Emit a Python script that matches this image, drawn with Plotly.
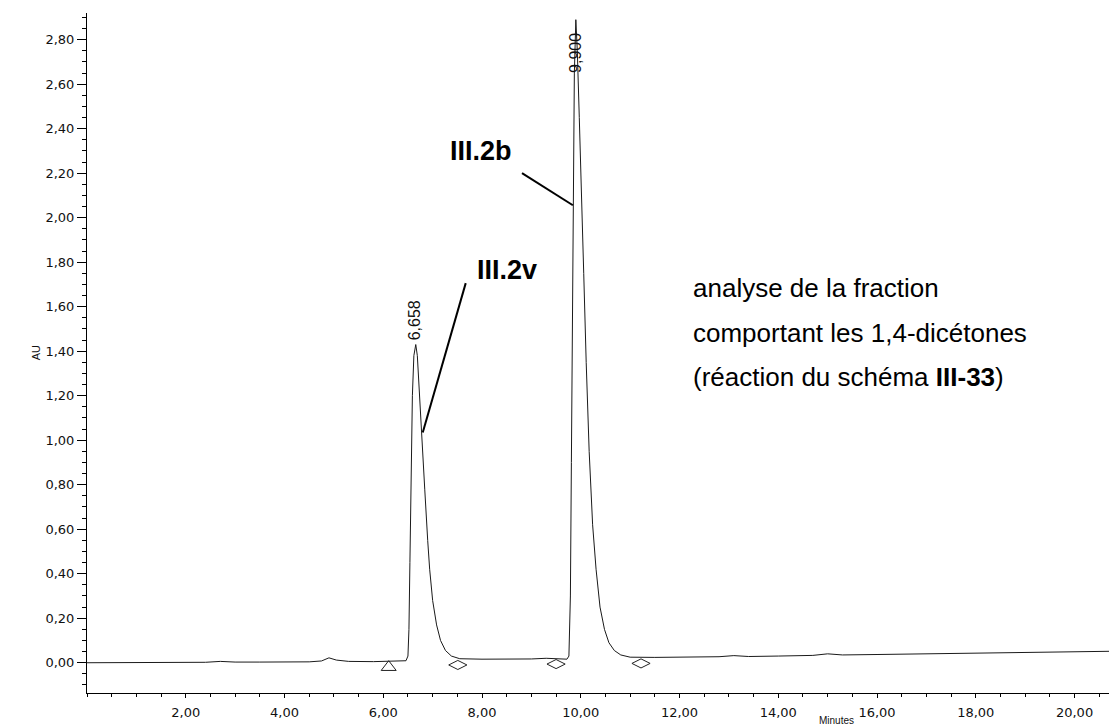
import plotly.graph_objects as go

# chromatogram trace (minutes, AU)
time_min = [0.0, 0.5, 1.0, 1.5, 2.0, 2.4, 2.7, 3.0, 3.5, 4.0, 4.5, 4.75, 4.9, 5.05, 5.3,
            5.8, 6.2, 6.40, 6.46, 6.50, 6.52, 6.54, 6.56, 6.59, 6.62, 6.658, 6.69, 6.72,
            6.78, 6.84, 6.90, 6.94, 7.00, 7.08, 7.16, 7.26, 7.38, 7.55, 8.0, 8.5, 9.0,
            9.3, 9.6, 9.72, 9.76, 9.79, 9.81, 9.83, 9.85, 9.87, 9.90, 9.93, 9.97, 10.02,
            10.06, 10.11, 10.17, 10.24, 10.31, 10.39, 10.48, 10.57, 10.68, 10.81, 11.0,
            11.5, 12.0, 12.8, 13.1, 13.4, 14.0, 14.7, 15.0, 15.3, 16.0, 17.0, 18.0, 19.0,
            20.0, 20.9]
absorbance = [0.000, 0.001, 0.001, 0.002, 0.002, 0.002, 0.006, 0.003, 0.003, 0.003, 0.004,
              0.008, 0.022, 0.012, 0.006, 0.005, 0.006, 0.007, 0.009, 0.03, 0.15, 0.45,
              0.85, 1.20, 1.38, 1.43, 1.38, 1.25, 1.05, 0.78, 0.55, 0.42, 0.28, 0.17,
              0.10, 0.055, 0.03, 0.018, 0.016, 0.016, 0.017, 0.020, 0.018, 0.016, 0.03,
              0.30, 0.90, 1.60, 2.20, 2.65, 2.89, 2.75, 2.45, 2.10, 1.75, 1.35, 0.95,
              0.62, 0.42, 0.25, 0.15, 0.09, 0.055, 0.035, 0.025, 0.024, 0.025, 0.027,
              0.032, 0.028, 0.030, 0.033, 0.040, 0.035, 0.037, 0.040, 0.044, 0.047,
              0.050, 0.052]

# integration start / end markers
start_t = [6.11]
start_au = [-0.02]
end_t = [7.51, 9.50, 11.22]
end_au = [-0.01, -0.006, -0.003]

# retention time labels
peak_t = [6.658, 9.90]
peak_au = [1.43, 2.74]
peak_text = ["6,658", "9,900"]
peak_anchor = ["bottom", "middle"]

note_lines = ["analyse de la fraction", "comportant les 1,4-dicétones",
              "(réaction du schéma <b>III-33</b>)"]
note_au = [1.683, 1.481, 1.284]

x_ticks = [2, 4, 6, 8, 10, 12, 14, 16, 18, 20]
y_ticks = [0.0, 0.2, 0.4, 0.6, 0.8, 1.0, 1.2, 1.4, 1.6, 1.8, 2.0, 2.2, 2.4, 2.6, 2.8]

fig = go.Figure()
fig.add_trace(go.Scatter(x=time_min, y=absorbance, mode="lines",
                         line=dict(color="#1a1a1a", width=1), showlegend=False))
fig.add_trace(go.Scatter(x=start_t, y=start_au, mode="markers",
                         marker=dict(symbol="triangle-up-open", size=13, color="#222",
                                     line=dict(width=1)), showlegend=False))
fig.add_trace(go.Scatter(x=end_t, y=end_au, mode="markers",
                         marker=dict(symbol="diamond-wide-open", size=13, color="#222",
                                     line=dict(width=1)), showlegend=False))

sans = "Liberation Sans, Arial"
for t, a, s, anc in zip(peak_t, peak_au, peak_text, peak_anchor):
    fig.add_annotation(x=t, y=a, text=s, showarrow=False, textangle=-90,
                       yanchor=anc, yshift=2 if anc == "bottom" else 0, xshift=-1,
                       font=dict(family=sans, size=16, color="#111"))

# compound labels with their pointer lines
fig.add_annotation(x=7.98, y=2.30, text="<b>III.2b</b>", showarrow=False,
                   font=dict(family=sans, size=27, color="black"))
fig.add_annotation(x=8.50, y=1.763, text="<b>III.2v</b>", showarrow=False,
                   font=dict(family=sans, size=27, color="black"))
fig.add_shape(type="line", x0=8.81, y0=2.20, x1=9.84, y1=2.056,
              line=dict(color="black", width=2))
fig.add_shape(type="line", x0=7.67, y0=1.706, x1=6.80, y1=1.035,
              line=dict(color="black", width=2))

for line, a in zip(note_lines, note_au):
    fig.add_annotation(x=12.23, y=a, xanchor="left", yanchor="middle", align="left",
                       showarrow=False, text=line,
                       font=dict(family=sans, size=26, color="black"))

fig.add_annotation(x=15.17, y=-0.029, xref="x", yref="paper", yanchor="top",
                   text="Minutes", showarrow=False,
                   font=dict(family=sans, size=10, color="#111"))
fig.add_annotation(x=-0.057, y=0.50, xref="paper", yref="paper", text="AU",
                   textangle=-90, showarrow=False,
                   font=dict(family=sans, size=11, color="#111"))

tick_font = dict(family="DejaVu Sans, Liberation Sans", size=13, color="#111")
fig.update_xaxes(range=[0.0, 20.86], tickvals=x_ticks, tickformat=".2f",
                 automargin=False,
                 showline=True, linecolor="black", linewidth=1, mirror=False,
                 ticks="outside", ticklen=4, tickcolor="black", showgrid=False,
                 zeroline=False, ticklabelstandoff=3,
                 minor=dict(dtick=0.5, tick0=0, ticks="outside", ticklen=3,
                            tickcolor="black"),
                 tickfont=tick_font)
fig.update_yaxes(range=[-0.136, 2.92], tickvals=y_ticks, tickformat=".2f",
                 automargin=False,
                 showline=True, linecolor="black", linewidth=1,
                 ticks="outside", ticklen=9, tickcolor="black", showgrid=False,
                 zeroline=False,
                 minor=dict(dtick=0.05, tick0=0, ticks="outside", ticklen=4,
                            tickcolor="black"),
                 tickfont=tick_font)

# the page body adds an 8px offset, so the margins are shifted to compensate
fig.update_layout(width=1117, height=724, separators=", ",
                  margin=dict(l=79, r=8, t=5, b=39),
                  plot_bgcolor="white", paper_bgcolor="white")

fig.write_html("out.html")
